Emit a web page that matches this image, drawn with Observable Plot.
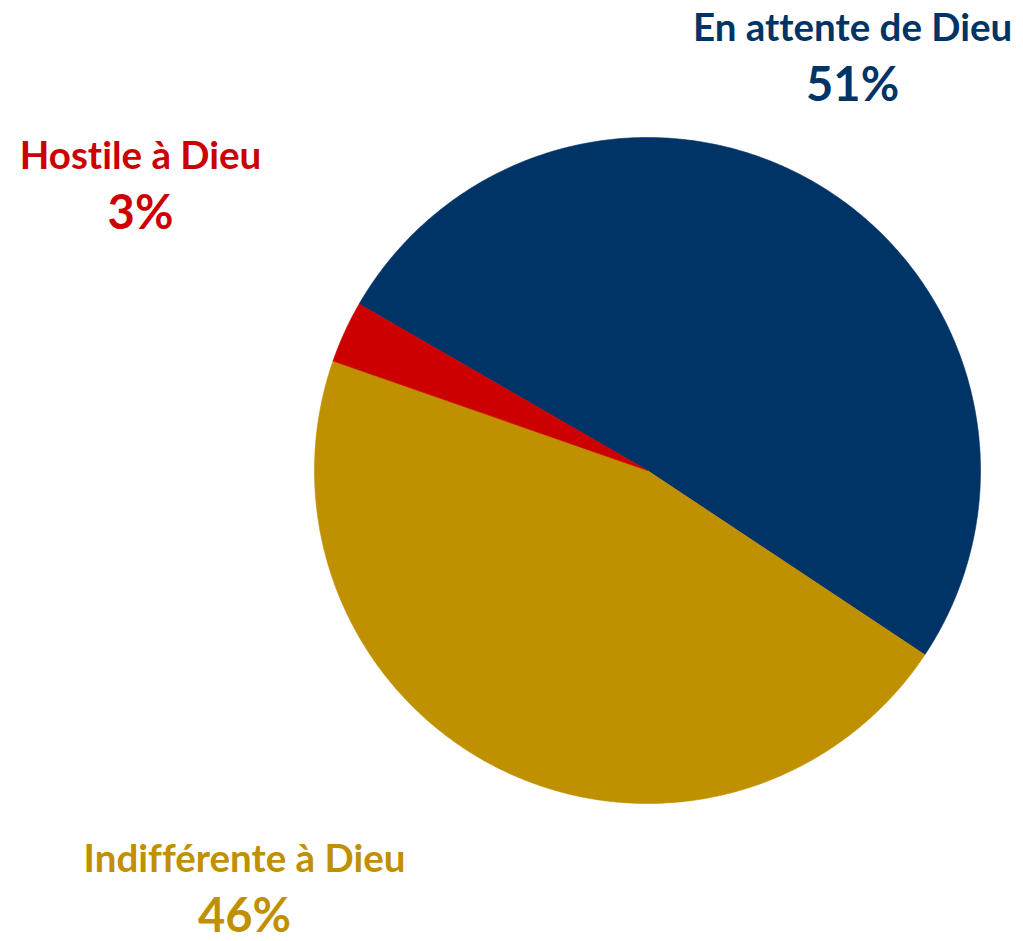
<!DOCTYPE html>
<html>
<head>
<meta charset="utf-8">
<script src="https://cdn.jsdelivr.net/npm/d3@7"></script>
<script src="https://cdn.jsdelivr.net/npm/@observablehq/plot@0.6"></script>
<style>
  html, body { margin: 0; padding: 0; background: #fff; }
  #chart svg { display: block; font-variant-ligatures: none; }
  #chart svg text { font-variant-ligatures: none; }
</style>
</head>
<body>
<div id="chart"></div>
<script>
// Data
const categories = ["En attente de Dieu", "Indifférente à Dieu", "Hostile à Dieu"];
const values = [51, 46, 3];
const colors = ["#003366", "#BF9000", "#CC0000"];

// Layout config (label anchors in chart units, pie radius = 1)
const labelAnchors = {
  "En attente de Dieu": [0.616, 1.291],
  "Indifférente à Dieu": [-1.21, -1.205],
  "Hostile à Dieu": [-1.5225, 0.904]
};

const pie = d3.pie().sort(null).value(d => d.value).startAngle(-Math.PI / 3).endAngle(-Math.PI / 3 + 2 * Math.PI);
const rows = categories.map((c, i) => ({key: c, value: values[i]}));
const arcs = pie(rows);

// Outline vertices of each slice (center + arc), derived from the pie angles
const pts = [];
for (const a of arcs) {
  const n = Math.max(4, Math.ceil((a.endAngle - a.startAngle) / (Math.PI / 360)));
  pts.push({key: a.data.key, x: 0, y: 0});
  for (let k = 0; k <= n; k++) {
    const t = a.startAngle + (a.endAngle - a.startAngle) * k / n;
    pts.push({key: a.data.key, x: Math.sin(t), y: Math.cos(t)});
  }
  pts.push({key: a.data.key, x: 0, y: 0});
}

const labels = rows.map(r => ({
  key: r.key,
  pct: r.value + "%",
  x: labelAnchors[r.key][0],
  y: labelAnchors[r.key][1]
}));

const chart = Plot.plot({
  width: 1023,
  height: 941,
  margin: 0,
  x: {domain: [-1, 1], range: [314, 980], axis: null},
  y: {domain: [-1, 1], range: [803, 137], axis: null},
  color: {domain: categories, range: colors},
  style: {fontFamily: "Lato, 'Open Sans', sans-serif", background: "#fff"},
  marks: [
    Plot.line(pts, {x: "x", y: "y", z: "key", fill: "key", stroke: "key", strokeWidth: 0.6, curve: "linear"}),
    Plot.text(labels, {x: "x", y: "y", text: "key", fill: "key", fontSize: 38.5, fontWeight: "bold", textAnchor: "middle", lineAnchor: "bottom"}),
    Plot.text(labels, {x: "x", y: "y", text: "pct", fill: "key", fontSize: 47, fontWeight: "bold", textAnchor: "middle", lineAnchor: "bottom", dy: 60})
  ]
});
document.getElementById("chart").appendChild(chart);
</script>
</body>
</html>
